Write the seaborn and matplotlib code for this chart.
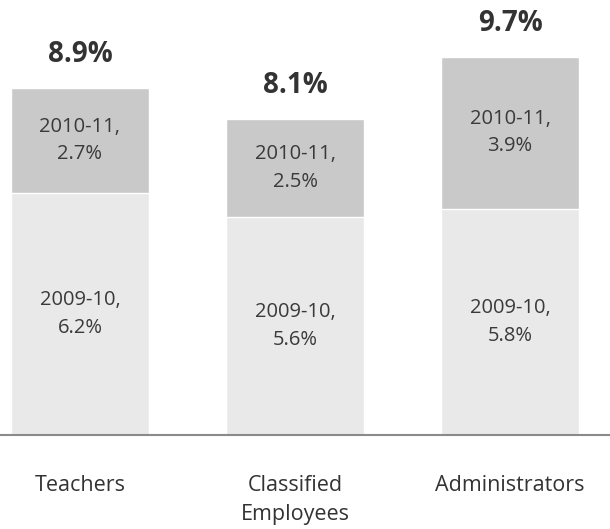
import pandas as pd
import matplotlib
matplotlib.use('Agg')
import matplotlib.pyplot as plt
import seaborn as sns

groups = ['Teachers', 'Classified\nEmployees', 'Administrators']
y2009 = [6.2, 5.6, 5.8]
y2010 = [2.7, 2.5, 3.9]
totals = [8.9, 8.1, 9.7]

df = pd.DataFrame({'group': groups, 'y2009': y2009, 'y2010': y2010, 'total': totals})

sns.set_style('white')
plt.rcParams['font.family'] = ['Open Sans', 'DejaVu Sans']

fig = plt.figure(figsize=(6.1, 5.29), dpi=100)
ax = fig.add_axes([0, 0.1777, 1, 0.8223])

# top segment drawn as full stack, bottom segment on top of it
sns.barplot(data=df, x='group', y='total', color='#c9c9c9', width=0.64,
            saturation=1, ax=ax)
sns.barplot(data=df, x='group', y='y2009', color='#e9e9e9', width=0.64,
            saturation=1, ax=ax)

for i, row in df.iterrows():
    ax.text(i, row['y2009'] / 2, '2009-10,\n%.1f%%' % row['y2009'],
            ha='center', va='center', fontsize=14.5, color='#3a3a3a',
            linespacing=1.5)
    ax.text(i, row['y2009'] + row['y2010'] / 2, '2010-11,\n%.1f%%' % row['y2010'],
            ha='center', va='center', fontsize=14.5, color='#3a3a3a',
            linespacing=1.5)
    ax.text(i, row['total'] + 0.85, '%.1f%%' % row['total'],
            ha='center', va='center', fontsize=20, fontweight='bold',
            color='#333333')

ax.set_xlim(-0.372, 2.465)
ax.set_ylim(0, 11.15)
ax.set_xlabel('')
ax.set_ylabel('')
ax.set_yticks([])
ax.tick_params(axis='x', length=0, pad=29, labelsize=15.5, labelcolor='#333333')
for lab in ax.get_xticklabels():
    lab.set_linespacing(1.5)
for s in ['top', 'left', 'right']:
    ax.spines[s].set_visible(False)
ax.spines['bottom'].set_color('#8a8a8a')
ax.spines['bottom'].set_linewidth(1.5)

fig.savefig('out.png', dpi=100)
